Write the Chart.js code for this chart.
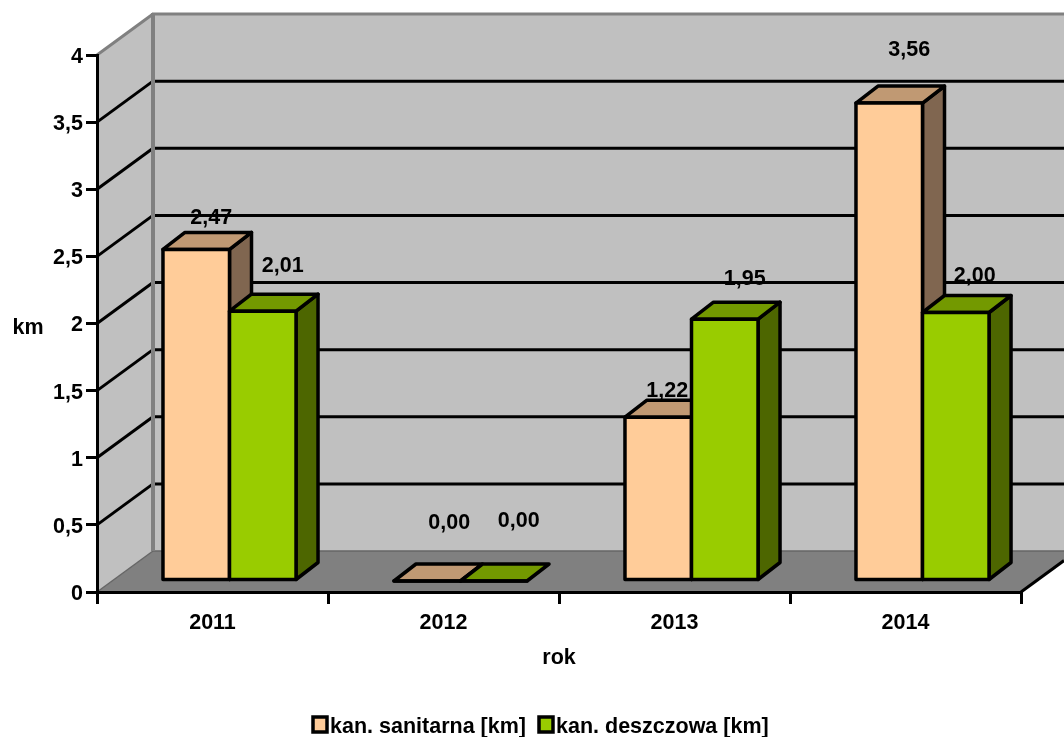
<!DOCTYPE html>
<html>
<head>
<meta charset="utf-8">
<title>kanalizacja</title>
<script src="https://cdn.jsdelivr.net/npm/chart.js@4"></script>
<style>
html, body { margin: 0; padding: 0; background: #fff; }
canvas { display: block; }
</style>
</head>
<body>
<canvas id="myChart" width="1064" height="737"></canvas>
<script>
var years = ["2011", "2012", "2013", "2014"];
var sanitarna = [2.47, 0, 1.22, 3.56];
var deszczowa = [2.01, 0, 1.95, 2.00];
var seriesNames = ["kan. sanitarna [km]", "kan. deszczowa [km]"];
var seriesColors = ["#FFCC99", "#99CC00"];
var yMax = 4;
var yStep = 0.5;

// excel 3d look
var wallDx = 56, wallDy = -41;   // front plane -> back wall
var barDx = 17, barDy = -11;     // front plane -> bar front
var depthDx = 22, depthDy = -17; // bar front -> bar back
var edgeW = 3.5;

// excel put the value labels in odd places: [dx from bar center, lift above bar top]
var labelNudge = [
    [[15, 33], [22, 60], [9, 28], [20, 55]],
    [[20, 47], [25, 62], [20, 42], [19, 38]]
];
var faceColors = [
    { top: "#C09973", side: "#806650" },
    { top: "#739900", side: "#4D6600" }
];
var legendBoxX = [313, 539], legendY = 725;

var fontStr = "bold 21.5px 'Liberation Sans'";

function poly(ctx, pts, fill, stroke, width) {
    ctx.beginPath();
    ctx.moveTo(pts[0][0], pts[0][1]);
    for (var i = 1; i < pts.length; i++) ctx.lineTo(pts[i][0], pts[i][1]);
    ctx.closePath();
    if (fill) { ctx.fillStyle = fill; ctx.fill(); }
    if (stroke) { ctx.strokeStyle = stroke; ctx.lineWidth = width; ctx.lineJoin = "round"; ctx.stroke(); }
}

function line(ctx, x1, y1, x2, y2, color, width) {
    ctx.beginPath();
    ctx.moveTo(x1, y1);
    ctx.lineTo(x2, y2);
    ctx.strokeStyle = color;
    ctx.lineWidth = width;
    ctx.stroke();
}

var walls = {
    id: "walls",
    beforeDraw: function (chart) {
        var ctx = chart.ctx, a = chart.chartArea, y = chart.scales.y;
        var W = chart.width;
        var bx = a.left + wallDx;
        var y0 = y.getPixelForValue(0), yTop = y.getPixelForValue(yMax);
        var floorEnd = y0 + wallDy * (W - a.right) / wallDx;
        ctx.save();
        // left wall, back wall, floor
        poly(ctx, [[a.left, y0], [a.left, yTop], [bx, yTop + wallDy], [bx, y0 + wallDy]], "#C0C0C0");
        poly(ctx, [[bx, y0 + wallDy], [bx, yTop + wallDy], [W, yTop + wallDy], [W, y0 + wallDy]], "#C0C0C0");
        poly(ctx, [[a.left, y0], [bx, y0 + wallDy], [W, y0 + wallDy], [W, floorEnd], [a.right, y0]], "#808080");
        // grid lines run over both walls
        for (var v = yStep; v < yMax; v += yStep) {
            var p = y.getPixelForValue(v);
            line(ctx, a.left, p, bx, p + wallDy, "#000", 3);
            line(ctx, bx, p + wallDy, W, p + wallDy, "#000", 3);
        }
        // edges
        line(ctx, bx, y0 + wallDy, W, y0 + wallDy, "#666", 1.5);
        line(ctx, a.left, y0, bx, y0 + wallDy, "#666", 1.5);
        line(ctx, bx, yTop + wallDy - 1, bx, y0 + wallDy, "#808080", 4);
        line(ctx, bx - 1, yTop + wallDy, W, yTop + wallDy, "#808080", 3);
        line(ctx, a.left, yTop, bx, yTop + wallDy, "#808080", 3);
        line(ctx, a.right, y0, W, floorEnd, "#000", 3);
        ctx.restore();
    },
    // drawn here so the left series comes first, chart.js would paint it last
    beforeDatasetsDraw: function (chart) {
        var ctx = chart.ctx;
        ctx.save();
        ctx.translate(barDx, barDy);
        chart.data.datasets.forEach(function (ds, i) {
            var cols = faceColors[i];
            chart.getDatasetMeta(i).data.forEach(function (el) {
                var l = el.x - el.width / 2, r = el.x + el.width / 2, t = el.y, b = el.base;
                if (b - t > 0.5) {
                    poly(ctx, [[r, t], [r + depthDx, t + depthDy], [r + depthDx, b + depthDy], [r, b]], cols.side, "#000", edgeW);
                }
                poly(ctx, [[l, t], [l + depthDx, t + depthDy], [r + depthDx, t + depthDy], [r, t]], cols.top, "#000", edgeW);
                el.draw(ctx);
                ctx.strokeStyle = "#000";
                ctx.lineWidth = edgeW;
                ctx.lineJoin = "round";
                ctx.strokeRect(l, t, el.width, b - t);
            });
        });
        ctx.restore();
    },
    beforeDatasetDraw: function () {
        return false;
    },
    afterDatasetsDraw: function (chart) {
        var ctx = chart.ctx, y = chart.scales.y;
        ctx.save();
        ctx.font = fontStr;
        ctx.fillStyle = "#000";
        ctx.textAlign = "center";
        ctx.textBaseline = "middle";
        chart.data.datasets.forEach(function (ds, i) {
            chart.getDatasetMeta(i).data.forEach(function (el, j) {
                var n = labelNudge[i][j];
                ctx.fillText(ds.data[j].toFixed(2).replace(".", ","), el.x + barDx + n[0], el.y + barDy - n[1] + 2);
            });
        });
        // y title stays horizontal
        ctx.fillText("km", 28, y.getPixelForValue(2) + 5);
        // legend, box sits tight against the text
        ctx.textAlign = "left";
        seriesNames.forEach(function (name, i) {
            ctx.fillStyle = seriesColors[i];
            ctx.fillRect(legendBoxX[i], legendY - 8, 14, 15);
            ctx.strokeStyle = "#000";
            ctx.lineWidth = 3.5;
            ctx.strokeRect(legendBoxX[i], legendY - 8, 14, 15);
            ctx.fillStyle = "#000";
            ctx.fillText(name, legendBoxX[i] + 17, legendY + 2);
        });
        ctx.restore();
    }
};

var font = { family: "'Liberation Sans'", size: 21.5, weight: "bold" };
Chart.defaults.color = "#000";

var chart = new Chart(document.getElementById("myChart").getContext("2d"), {
    type: "bar",
    plugins: [walls],
    data: {
        labels: years,
        datasets: [
            { label: seriesNames[0], data: sanitarna, backgroundColor: seriesColors[0] },
            { label: seriesNames[1], data: deszczowa, backgroundColor: seriesColors[1] }
        ]
    },
    options: {
        responsive: false,
        animation: false,
        devicePixelRatio: 1,
        layout: { padding: { left: 0, right: 43, top: 55, bottom: 0 } },
        datasets: {
            bar: {
                barPercentage: 1,
                categoryPercentage: 0.576,
                borderWidth: 0,
                inflateAmount: 0
            }
        },
        plugins: {
            tooltip: { enabled: false },
            legend: { display: false }
        },
        scales: {
            x: {
                afterFit: function (s) { s.height = 145; },
                grid: { offset: true, drawOnChartArea: false, color: "#000", lineWidth: 3, tickLength: 12 },
                border: { color: "#000", width: 3 },
                ticks: { font: font, color: "#000", padding: 6, maxRotation: 0 },
                title: { display: true, text: "rok", font: font, color: "#000", padding: { top: 14, bottom: 66 } }
            },
            y: {
                min: 0,
                max: yMax,
                afterFit: function (s) { s.width = 97; },
                grid: { drawOnChartArea: false, color: "#000", lineWidth: 3, tickLength: 11 },
                border: { color: "#000", width: 3 },
                ticks: {
                    stepSize: yStep,
                    font: font,
                    color: "#000",
                    padding: 3,
                    labelOffset: 2,
                    callback: function (v) { return String(v).replace(".", ","); }
                }
            }
        }
    }
});
</script>
</body>
</html>
